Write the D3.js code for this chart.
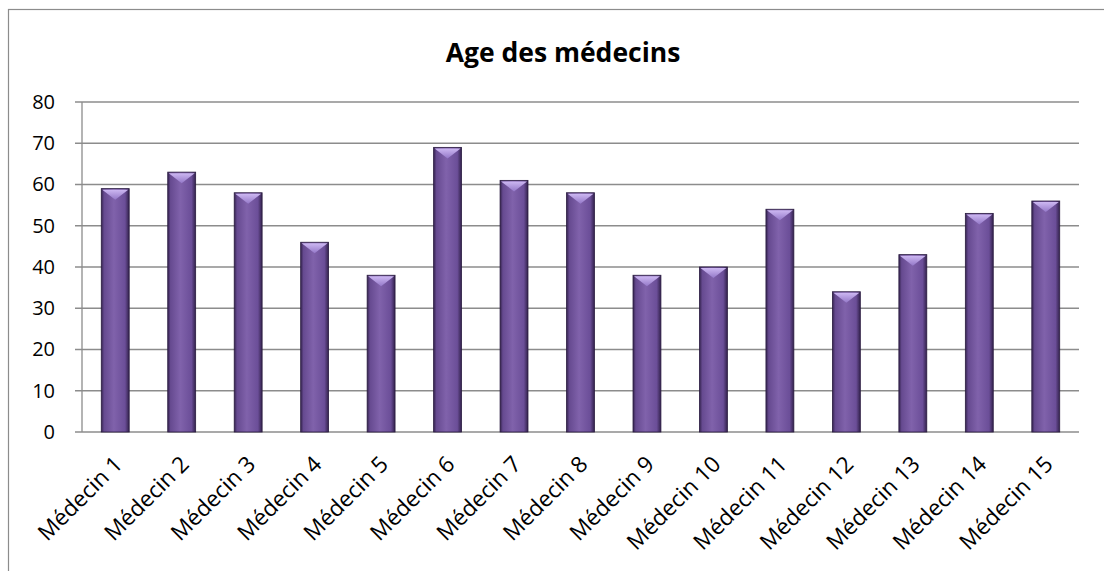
<!DOCTYPE html>
<html>
<head>
<meta charset="utf-8">
<script src="https://cdn.jsdelivr.net/npm/d3@7"></script>
<style>
  body { margin: 0; background: #fff; }
  text { font-family: "Open Sans", "Liberation Sans", sans-serif; fill: #000; }
</style>
</head>
<body>
<div id="chart"></div>
<script>
const categories = ["Médecin 1", "Médecin 2", "Médecin 3", "Médecin 4", "Médecin 5",
  "Médecin 6", "Médecin 7", "Médecin 8", "Médecin 9", "Médecin 10",
  "Médecin 11", "Médecin 12", "Médecin 13", "Médecin 14", "Médecin 15"];
const ages = [59, 63, 58, 46, 38, 69, 61, 58, 38, 40, 54, 34, 43, 53, 56];
const yTicks = [0, 10, 20, 30, 40, 50, 60, 70, 80];
const title = "Age des médecins";

const W = 1104, H = 571;
const margin = { top: 102, right: 1104 - 1079, bottom: 571 - 432, left: 82 };
const width = W - margin.left - margin.right,
  height = H - margin.top - margin.bottom;

const svg = d3.select("#chart").append("svg").attr("width", W).attr("height", H);

// chart frame
svg.append("rect").attr("x", 8.5).attr("y", 9.5).attr("width", W + 10).attr("height", H + 10)
  .attr("fill", "none").attr("stroke", "#8c8c8c").attr("stroke-width", 1.2);

const defs = svg.append("defs");
const body = defs.append("linearGradient").attr("id", "barBody");
[[0, "#34234e"], [0.1, "#664a90"], [0.45, "#8062ab"], [0.85, "#6b4e98"], [1, "#32214b"]]
  .forEach(([o, c]) => body.append("stop").attr("offset", o).attr("stop-color", c));
const cap = defs.append("linearGradient").attr("id", "barCap").attr("x1", 0).attr("x2", 0).attr("y1", 0).attr("y2", 1);
[[0, "#cdb8f2"], [1, "#9478c8"]].forEach(([o, c]) => cap.append("stop").attr("offset", o).attr("stop-color", c));

svg.append("text").attr("x", 563).attr("y", 62).attr("text-anchor", "middle")
  .style("font-size", "26.5px").style("font-weight", "bold").text(title);

const g = svg.append("g").attr("transform", `translate(${margin.left},${margin.top})`);

const x = d3.scaleBand().domain(categories).range([0, width]).paddingInner(0.58).paddingOuter(0.29);
const y = d3.scaleLinear().domain([0, 80]).range([height, 0]);

// gridlines
g.selectAll(".grid").data(yTicks).enter().append("line")
  .attr("x1", -7).attr("x2", width).attr("y1", d => y(d)).attr("y2", d => y(d))
  .attr("stroke", "#8c8c8c").attr("stroke-width", 1.3);

g.append("line").attr("x1", 0).attr("x2", 0).attr("y1", 0).attr("y2", height)
  .attr("stroke", "#8c8c8c").attr("stroke-width", 1.3);

const yAxis = g.append("g").call(d3.axisLeft(y).tickValues(yTicks).tickSize(0).tickPadding(27));
yAxis.select(".domain").remove();
yAxis.selectAll("text").style("font-size", "20px").style("font-family", "'Open Sans', sans-serif");

// bars
const bars = g.selectAll(".bar").data(ages).enter().append("g").attr("class", "bar");
bars.append("rect")
  .attr("x", (d, i) => x(categories[i]))
  .attr("y", d => y(d))
  .attr("width", x.bandwidth())
  .attr("height", d => height - y(d))
  .attr("fill", "url(#barBody)")
  .attr("stroke", "#2a1b40").attr("stroke-width", 0.8);
bars.append("path")
  .attr("d", (d, i) => {
    const x0 = x(categories[i]), bw = x.bandwidth(), y0 = y(d);
    return `M${x0 + 1},${y0 + 1}L${x0 + bw - 1},${y0 + 1}L${x0 + bw / 2},${y0 + 11}Z`;
  })
  .attr("fill", "url(#barCap)");

// x labels
const xAxis = g.append("g").attr("transform", `translate(0,${height})`)
  .call(d3.axisBottom(x).tickSize(0).tickPadding(0));
xAxis.select(".domain").remove();
xAxis.selectAll("text")
  .style("font-size", "22.5px").style("font-family", "'Open Sans', sans-serif")
  .attr("text-anchor", "end")
  .attr("transform", "translate(3,28) rotate(-45)")
  .attr("dy", "0.35em");
</script>
</body>
</html>
